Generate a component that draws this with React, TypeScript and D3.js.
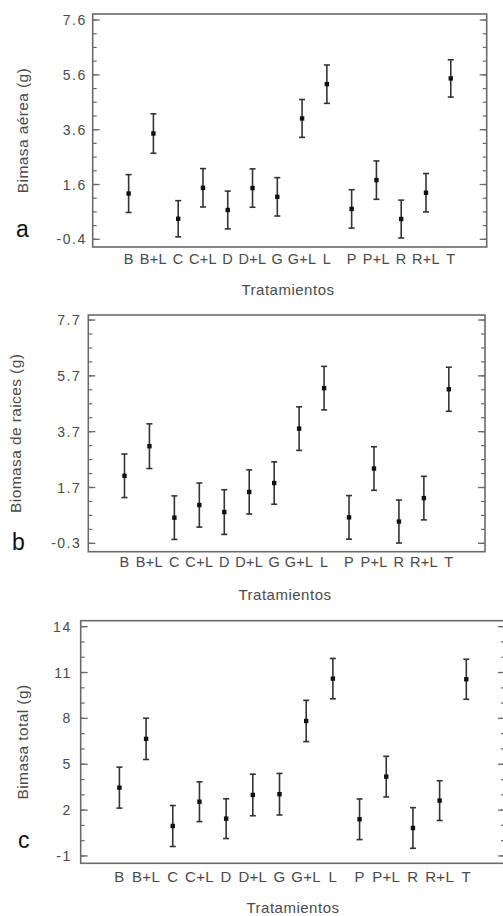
import React from "react";
import * as d3 from "d3";

const categories = ["B", "B+L", "C", "C+L", "D", "D+L", "G", "G+L", "L", "P", "P+L", "R", "R+L", "T"];

const aereaMean = [1.27, 3.46, 0.35, 1.48, 0.67, 1.47, 1.15, 4.01, 5.26, 0.71, 1.76, 0.34, 1.3, 5.47];
const aereaErr = [0.69, 0.72, 0.66, 0.7, 0.69, 0.7, 0.7, 0.69, 0.7, 0.7, 0.7, 0.69, 0.7, 0.68];

const raicesMean = [2.12, 3.18, 0.62, 1.07, 0.82, 1.54, 1.86, 3.81, 5.26, 0.63, 2.38, 0.48, 1.32, 5.22];
const raicesErr = [0.78, 0.8, 0.78, 0.79, 0.8, 0.79, 0.76, 0.78, 0.78, 0.78, 0.78, 0.77, 0.78, 0.79];

const totalMean = [3.47, 6.66, 0.96, 2.55, 1.44, 2.99, 3.04, 7.83, 10.6, 1.4, 4.19, 0.83, 2.62, 10.56];
const totalErr = [1.34, 1.35, 1.34, 1.3, 1.3, 1.36, 1.36, 1.35, 1.32, 1.33, 1.33, 1.33, 1.3, 1.31];

const aTicks = [-0.4, 1.6, 3.6, 5.6, 7.6];
const bTicks = [-0.3, 1.7, 3.7, 5.7, 7.7];
const cTicks = [-1, 2, 5, 8, 11, 14];

const aYTitle = "Bimasa aérea (g)";
const bYTitle = "Biomasa de raices (g)";
const cYTitle = "Bimasa total (g)";
const xTitle = "Tratamientos";

const FONT = "'Liberation Sans', Arial, sans-serif";

type PanelProps = {
  mean: number[];
  err: number[];
  ticks: number[];
  minorStep: number;
  yDomain: [number, number];
  box: { x0: number; x1: number; y0: number; y1: number };
  yTitle: string;
  yTitleX: number;
  letter: string;
  letterX: number;
  letterY: number;
  catFont: number;
  catBaseline: number;
  xTitleX: number;
  xTitleY: number;
  tickGap: number;
};

function Panel(p: PanelProps) {
  const { box } = p;
  const x = d3.scalePoint<string>().domain(categories).range([box.x0, box.x1]).padding(1.45);
  const y = d3.scaleLinear().domain(p.yDomain).range([box.y1, box.y0]);
  const t0 = p.ticks[0];
  const t1 = p.ticks[p.ticks.length - 1];
  const nMinor = Math.round((t1 - t0) / p.minorStep);
  const minor = d3.range(0, nMinor + 1).map((i) => t0 + i * p.minorStep);
  const axisColor = "#6a6a6a";
  const textColor = "#4a4a4a";
  return (
    <g>
      <rect x={box.x0} y={box.y0} width={box.x1 - box.x0} height={box.y1 - box.y0} fill="none" stroke={axisColor} strokeWidth={1.6} />
      {minor.map((v, i) => (
        <g key={"m" + i}>
          <line x1={box.x0} x2={box.x0 + 4} y1={y(v)} y2={y(v)} stroke={axisColor} strokeWidth={1.2} />
          <line x1={box.x1} x2={box.x1 - 4} y1={y(v)} y2={y(v)} stroke={axisColor} strokeWidth={1.2} />
        </g>
      ))}
      {p.ticks.map((v, i) => (
        <g key={"t" + i}>
          <line x1={box.x0} x2={box.x0 + 7} y1={y(v)} y2={y(v)} stroke={axisColor} strokeWidth={1.3} />
          <line x1={box.x1} x2={box.x1 - 7} y1={y(v)} y2={y(v)} stroke={axisColor} strokeWidth={1.3} />
          <text x={box.x0 - p.tickGap} y={y(v) + 5} textAnchor="end" fontSize={14} letterSpacing={1.5} fill={textColor} fontFamily={FONT}>
            {String(v)}
          </text>
        </g>
      ))}
      {categories.map((c) => (
        <text key={"c" + c} x={x(c)} y={p.catBaseline} textAnchor="middle" fontSize={p.catFont} letterSpacing={0.3} fill={textColor} fontFamily={FONT}>
          {c}
        </text>
      ))}
      {categories.map((c, i) => {
        const cx = x(c) as number;
        const lo = y(p.mean[i] - p.err[i]);
        const hi = y(p.mean[i] + p.err[i]);
        const cy = y(p.mean[i]);
        return (
          <g key={"e" + c}>
            <line x1={cx} x2={cx} y1={lo} y2={hi} stroke="#333" strokeWidth={1.6} />
            <line x1={cx - 3} x2={cx + 3} y1={lo} y2={lo} stroke="#333" strokeWidth={1.6} />
            <line x1={cx - 3} x2={cx + 3} y1={hi} y2={hi} stroke="#333" strokeWidth={1.6} />
            <rect x={cx - 2.2} y={cy - 2.2} width={4.4} height={4.4} fill="#111" />
          </g>
        );
      })}
      <text
        transform={`translate(${p.yTitleX},${(box.y0 + box.y1) / 2}) rotate(-90)`}
        textAnchor="middle"
        fontSize={15.5}
        letterSpacing={0.4}
        fill={textColor}
        fontFamily={FONT}
      >
        {p.yTitle}
      </text>
      <text x={p.xTitleX} y={p.xTitleY} textAnchor="middle" fontSize={15} letterSpacing={0.5} fill={textColor} fontFamily={FONT}>
        {xTitle}
      </text>
      <text x={p.letterX} y={p.letterY} fontSize={23} fill="#111" fontFamily={FONT}>
        {p.letter}
      </text>
    </g>
  );
}

export default function App() {
  return (
    <svg width={503} height={916} style={{ position: "absolute", left: 0, top: 0, background: "#fff" }}>
      <rect x={0} y={0} width={503} height={916} fill="#fff" />
      <Panel
        mean={aereaMean}
        err={aereaErr}
        ticks={aTicks}
        minorStep={0.5}
        yDomain={[-0.68, 7.82]}
        box={{ x0: 92.7, x1: 486.7, y0: 14, y1: 247 }}
        yTitle={aYTitle}
        yTitleX={27.5}
        letter="a"
        letterX={16}
        letterY={237}
        catFont={14.5}
        catBaseline={264}
        xTitleX={288}
        xTitleY={295}
        tickGap={6}
      />
      <Panel
        mean={raicesMean}
        err={raicesErr}
        ticks={bTicks}
        minorStep={0.5}
        yDomain={[-0.6, 7.88]}
        box={{ x0: 88.3, x1: 485, y0: 315, y1: 551.7 }}
        yTitle={bYTitle}
        yTitleX={21}
        letter="b"
        letterX={12}
        letterY={550}
        catFont={14.5}
        catBaseline={567}
        xTitleX={285}
        xTitleY={600}
        tickGap={7}
      />
      <Panel
        mean={totalMean}
        err={totalErr}
        ticks={cTicks}
        minorStep={1}
        yDomain={[-1.48, 14.39]}
        box={{ x0: 80.7, x1: 505, y0: 620.7, y1: 863.3 }}
        yTitle={cYTitle}
        yTitleX={28}
        letter="c"
        letterX={18}
        letterY={848}
        catFont={15}
        catBaseline={882}
        xTitleX={293}
        xTitleY={913}
        tickGap={9}
      />
    </svg>
  );
}
